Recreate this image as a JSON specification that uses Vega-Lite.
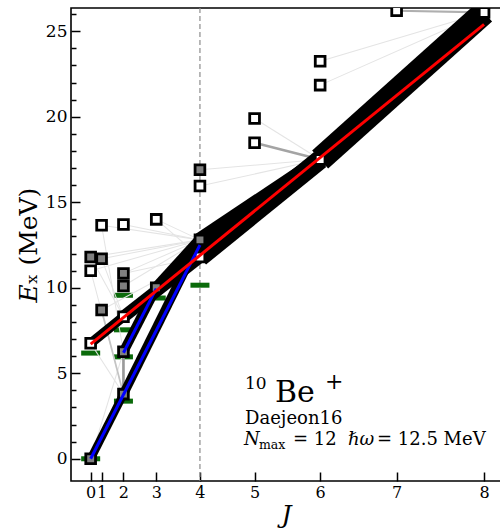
{
  "$schema": "https://vega.github.io/schema/vega-lite/v6.json",
  "width": 430,
  "height": 473,
  "autosize": {"type": "none"},
  "padding": {"left": 71, "top": 8, "right": 0, "bottom": 51},
  "background": "white",
  "config": {
    "font": "DejaVu Serif",
    "view": {"stroke": "black", "strokeWidth": 1.6},
    "axis": {"labelFont": "DejaVu Serif", "titleFont": "DejaVu Serif", "labelColor": "black", "titleColor": "black", "tickColor": "black", "titleFontWeight": "normal", "grid": false, "domain": false}
  },
  "datasets": {
    "levels": [
      {"J": 0, "E": 0.0, "cls": "I"},
      {"J": 0, "E": 6.75, "cls": "II"},
      {"J": 0, "E": 11.0, "cls": "II"},
      {"J": 0, "E": 11.8, "cls": "I"},
      {"J": 1, "E": 8.7, "cls": "I"},
      {"J": 1, "E": 11.7, "cls": "I"},
      {"J": 1, "E": 13.65, "cls": "II"},
      {"J": 2, "E": 3.78, "cls": "I"},
      {"J": 2, "E": 6.26, "cls": "I"},
      {"J": 2, "E": 8.3, "cls": "II"},
      {"J": 2, "E": 10.1, "cls": "I"},
      {"J": 2, "E": 10.84, "cls": "I"},
      {"J": 2, "E": 13.7, "cls": "II"},
      {"J": 3, "E": 10.0, "cls": "I"},
      {"J": 3, "E": 14.0, "cls": "II"},
      {"J": 4, "E": 11.8, "cls": "II"},
      {"J": 4, "E": 12.8, "cls": "I"},
      {"J": 4, "E": 15.95, "cls": "II"},
      {"J": 4, "E": 16.9, "cls": "I"},
      {"J": 5, "E": 18.48, "cls": "II"},
      {"J": 5, "E": 19.9, "cls": "II"},
      {"J": 6, "E": 17.5, "cls": "II"},
      {"J": 6, "E": 21.85, "cls": "II"},
      {"J": 6, "E": 23.25, "cls": "II"},
      {"J": 7, "E": 26.2, "cls": "II"},
      {"J": 8, "E": 26.1, "cls": "II"}
    ],
    "experiment": [
      {"J": 0, "E": 0.0},
      {"J": 0, "E": 6.18},
      {"J": 2, "E": 3.37},
      {"J": 2, "E": 5.96},
      {"J": 2, "E": 7.54},
      {"J": 2, "E": 9.56},
      {"J": 3, "E": 9.4},
      {"J": 4, "E": 10.15}
    ],
    "transitions": [
      {"Ji": 4, "Ei": 12.8, "Jf": 0, "Ef": 11.8, "s": 0.01},
      {"Ji": 4, "Ei": 12.8, "Jf": 0, "Ef": 11.0, "s": 0.01},
      {"Ji": 4, "Ei": 12.8, "Jf": 1, "Ef": 11.7, "s": 0.01},
      {"Ji": 4, "Ei": 12.8, "Jf": 1, "Ef": 13.65, "s": 0.01},
      {"Ji": 4, "Ei": 12.8, "Jf": 2, "Ef": 13.7, "s": 0.01},
      {"Ji": 4, "Ei": 12.8, "Jf": 2, "Ef": 10.84, "s": 0.01},
      {"Ji": 4, "Ei": 12.8, "Jf": 2, "Ef": 10.1, "s": 0.01},
      {"Ji": 4, "Ei": 12.8, "Jf": 3, "Ef": 14.0, "s": 0.01},
      {"Ji": 4, "Ei": 11.8, "Jf": 2, "Ef": 10.84, "s": 0.01},
      {"Ji": 4, "Ei": 11.8, "Jf": 1, "Ef": 8.7, "s": 0.01},
      {"Ji": 4, "Ei": 11.8, "Jf": 3, "Ef": 14.0, "s": 0.01},
      {"Ji": 6, "Ei": 17.5, "Jf": 4, "Ef": 15.95, "s": 0.01},
      {"Ji": 6, "Ei": 17.5, "Jf": 4, "Ef": 16.9, "s": 0.01},
      {"Ji": 6, "Ei": 17.5, "Jf": 5, "Ef": 19.9, "s": 0.01},
      {"Ji": 8, "Ei": 26.1, "Jf": 6, "Ef": 23.25, "s": 0.01},
      {"Ji": 8, "Ei": 26.1, "Jf": 6, "Ef": 21.85, "s": 0.01},
      {"Ji": 1, "Ei": 13.65, "Jf": 2, "Ef": 6.26, "s": 0.01},
      {"Ji": 0, "Ei": 11.0, "Jf": 2, "Ef": 3.78, "s": 0.01},
      {"Ji": 0, "Ei": 0.0, "Jf": 2, "Ef": 6.26, "s": 0.01},
      {"Ji": 0, "Ei": 6.75, "Jf": 2, "Ef": 3.78, "s": 0.01},
      {"Ji": 2, "Ei": 8.3, "Jf": 0, "Ef": 11.8, "s": 0.01},
      {"Ji": 1, "Ei": 11.7, "Jf": 2, "Ef": 8.3, "s": 0.01},
      {"Ji": 1, "Ei": 8.7, "Jf": 2, "Ef": 3.78, "s": 0.04},
      {"Ji": 7, "Ei": 26.2, "Jf": 8, "Ef": 26.1, "s": 0.06},
      {"Ji": 5, "Ei": 18.48, "Jf": 6, "Ef": 17.5, "s": 0.07},
      {"Ji": 2, "Ei": 3.78, "Jf": 2, "Ef": 6.26, "s": 0.08},
      {"Ji": 0, "Ei": 0.0, "Jf": 2, "Ef": 3.78, "s": 0.32},
      {"Ji": 2, "Ei": 3.78, "Jf": 4, "Ef": 12.8, "s": 0.36},
      {"Ji": 2, "Ei": 6.26, "Jf": 3, "Ef": 10.0, "s": 0.38},
      {"Ji": 0, "Ei": 6.75, "Jf": 2, "Ef": 8.3, "s": 0.38},
      {"Ji": 3, "Ei": 10.0, "Jf": 4, "Ef": 12.8, "s": 0.45},
      {"Ji": 2, "Ei": 8.3, "Jf": 4, "Ef": 11.8, "s": 0.5},
      {"Ji": 4, "Ei": 12.8, "Jf": 6, "Ef": 17.5, "s": 0.6},
      {"Ji": 4, "Ei": 11.8, "Jf": 6, "Ef": 17.5, "s": 0.8},
      {"Ji": 6, "Ei": 17.5, "Jf": 8, "Ef": 26.1, "s": 1.0}
    ],
    "fits": [
      {"band": "K=0 ground", "Ji": 0, "Ei": 0.0, "Jf": 4, "Ef": 12.5},
      {"band": "K=2", "Ji": 2, "Ei": 6.2, "Jf": 3, "Ef": 9.95},
      {"band": "K=0 excited", "Ji": 0, "Ei": 6.7, "Jf": 8, "Ef": 25.4}
    ]
  },
  "resolve": {"axis": {"x": "independent", "y": "independent"}, "scale": {"color": "independent", "stroke": "independent", "fill": "independent"}},
  "layer": [
    {
      "data": {"values": [{"J": 4}]},
      "mark": {"type": "rule", "color": "#8c8c8c", "strokeWidth": 1.2, "strokeDash": [5, 3]},
      "encoding": {
        "x": {"field": "J", "type": "quantitative", "axis": null}
      }
    },
    {
      "data": {"name": "experiment"},
      "mark": {"type": "tick", "orient": "horizontal", "color": "#0a6a0a", "size": 19, "thickness": 5, "opacity": 1, "clip": true},
      "encoding": {
        "x": {
          "field": "J", "type": "quantitative",
          "scale": {
            "type": "linear", "nice": false, "zero": false,
            "domain": [-1, 0, 1, 2, 3, 4, 5, 6, 7, 8, 8.2],
            "range": [0, 19.67, 30.6, 52.45, 85.24, 128.95, 183.58, 249.15, 325.64, 413.06, 430]
          },
          "axis": {
            "orient": "bottom",
            "values": [0, 1, 2, 3, 4, 5, 6, 7, 8],
            "labelFontSize": 16, "labelPadding": 12, "labelOverlap": false,
            "tickSize": -9, "tickWidth": 1.5,
            "title": "J", "titleFontSize": 25, "titleFontStyle": "italic", "titlePadding": 2
          }
        },
        "y": {
          "field": "E", "type": "quantitative",
          "scale": {"domain": [-1.3, 26.36], "nice": false, "zero": false},
          "axis": {
            "orient": "left", "values": [0, 5, 10, 15, 20, 25],
            "labelFontSize": 17, "labelPadding": 13,
            "tickSize": -9, "tickWidth": 1.5,
            "title": "𝐸ₓ (MeV)", "titleFontSize": 25, "titlePadding": 4
          }
        }
      }
    },
    {
      "data": {"name": "transitions"},
      "mark": {"type": "rule", "clip": true, "strokeCap": "butt"},
      "encoding": {
        "x": {"field": "Ji", "type": "quantitative", "axis": null},
        "y": {"field": "Ei", "type": "quantitative", "axis": null},
        "x2": {"field": "Jf"},
        "y2": {"field": "Ef"},
        "stroke": {"field": "s", "type": "quantitative", "scale": {"type": "linear", "domain": [0.01, 0.08, 0.25], "range": ["#e4e4e4", "#9a9a9a", "#000000"], "clamp": true}, "legend": null},
        "strokeWidth": {"field": "s", "type": "quantitative", "scale": {"type": "linear", "domain": [0, 1], "range": [0.8, 24]}, "legend": null}
      }
    },
    {
      "data": {"name": "levels"},
      "mark": {"type": "point", "shape": "square", "filled": true, "size": 95, "stroke": "black", "strokeWidth": 2.8, "opacity": 1, "clip": true},
      "encoding": {
        "x": {"field": "J", "type": "quantitative", "axis": null},
        "y": {
          "field": "E", "type": "quantitative",
          "axis": {
            "orient": "left",
            "values": [1, 2, 3, 4, 6, 7, 8, 9, 11, 12, 13, 14, 16, 17, 18, 19, 21, 22, 23, 24, 26],
            "labels": false, "title": null, "tickSize": -5, "tickWidth": 1.5
          }
        },
        "fill": {"field": "cls", "type": "nominal", "scale": {"domain": ["I", "II"], "range": ["#808080", "#ffffff"]}, "legend": null}
      }
    },
    {
      "data": {"name": "fits"},
      "mark": {"type": "rule", "clip": true, "strokeWidth": 3},
      "encoding": {
        "x": {"field": "Ji", "type": "quantitative", "axis": null},
        "y": {"field": "Ei", "type": "quantitative", "axis": null},
        "x2": {"field": "Jf"},
        "y2": {"field": "Ef"},
        "color": {"field": "band", "type": "nominal", "scale": {"domain": ["K=0 ground", "K=2", "K=0 excited"], "range": ["#0000ff", "#0000ff", "#ff0000"]}, "legend": null}
      }
    },
    {
      "data": {"values": [{"t": "10"}]},
      "mark": {"type": "text", "align": "left", "baseline": "alphabetic", "fontSize": 17, "dy": -13, "color": "black"},
      "encoding": {"x": {"datum": 4.825, "type": "quantitative", "axis": null}, "y": {"datum": 3.33, "type": "quantitative", "axis": null}, "text": {"field": "t"}}
    },
    {
      "data": {"values": [{"t": "Be"}]},
      "mark": {"type": "text", "align": "left", "baseline": "alphabetic", "fontSize": 30, "dx": 30, "color": "black"},
      "encoding": {"x": {"datum": 4.825, "type": "quantitative", "axis": null}, "y": {"datum": 3.33, "type": "quantitative", "axis": null}, "text": {"field": "t"}}
    },
    {
      "data": {"values": [{"t": "+"}]},
      "mark": {"type": "text", "align": "left", "baseline": "alphabetic", "fontSize": 22, "dx": 80, "dy": -13, "color": "black"},
      "encoding": {"x": {"datum": 4.825, "type": "quantitative", "axis": null}, "y": {"datum": 3.33, "type": "quantitative", "axis": null}, "text": {"field": "t"}}
    },
    {
      "data": {"values": [{"t": "Daejeon16"}]},
      "mark": {"type": "text", "align": "left", "baseline": "alphabetic", "fontSize": 18, "color": "black"},
      "encoding": {"x": {"datum": 4.825, "type": "quantitative", "axis": null}, "y": {"datum": 2.03, "type": "quantitative", "axis": null}, "text": {"field": "t"}}
    },
    {
      "data": {"values": [{"t": "N"}]},
      "mark": {"type": "text", "align": "left", "baseline": "alphabetic", "fontSize": 18, "fontStyle": "italic", "dx": -1, "color": "black"},
      "encoding": {"x": {"datum": 4.825, "type": "quantitative", "axis": null}, "y": {"datum": 0.8, "type": "quantitative", "axis": null}, "text": {"field": "t"}}
    },
    {
      "data": {"values": [{"t": "max"}]},
      "mark": {"type": "text", "align": "left", "baseline": "alphabetic", "fontSize": 12.5, "dx": 14, "dy": 4, "color": "black"},
      "encoding": {"x": {"datum": 4.825, "type": "quantitative", "axis": null}, "y": {"datum": 0.8, "type": "quantitative", "axis": null}, "text": {"field": "t"}}
    },
    {
      "data": {"values": [{"t": "= 12"}]},
      "mark": {"type": "text", "align": "left", "baseline": "alphabetic", "fontSize": 18, "dx": 48, "color": "black"},
      "encoding": {"x": {"datum": 4.825, "type": "quantitative", "axis": null}, "y": {"datum": 0.8, "type": "quantitative", "axis": null}, "text": {"field": "t"}}
    },
    {
      "data": {"values": [{"t": "ℏω"}]},
      "mark": {"type": "text", "align": "left", "baseline": "alphabetic", "fontSize": 18, "fontStyle": "italic", "dx": 103, "color": "black"},
      "encoding": {"x": {"datum": 4.825, "type": "quantitative", "axis": null}, "y": {"datum": 0.8, "type": "quantitative", "axis": null}, "text": {"field": "t"}}
    },
    {
      "data": {"values": [{"t": "= 12.5 MeV"}]},
      "mark": {"type": "text", "align": "left", "baseline": "alphabetic", "fontSize": 18, "dx": 132, "color": "black"},
      "encoding": {"x": {"datum": 4.825, "type": "quantitative", "axis": null}, "y": {"datum": 0.8, "type": "quantitative", "axis": null}, "text": {"field": "t"}}
    }
  ]
}
